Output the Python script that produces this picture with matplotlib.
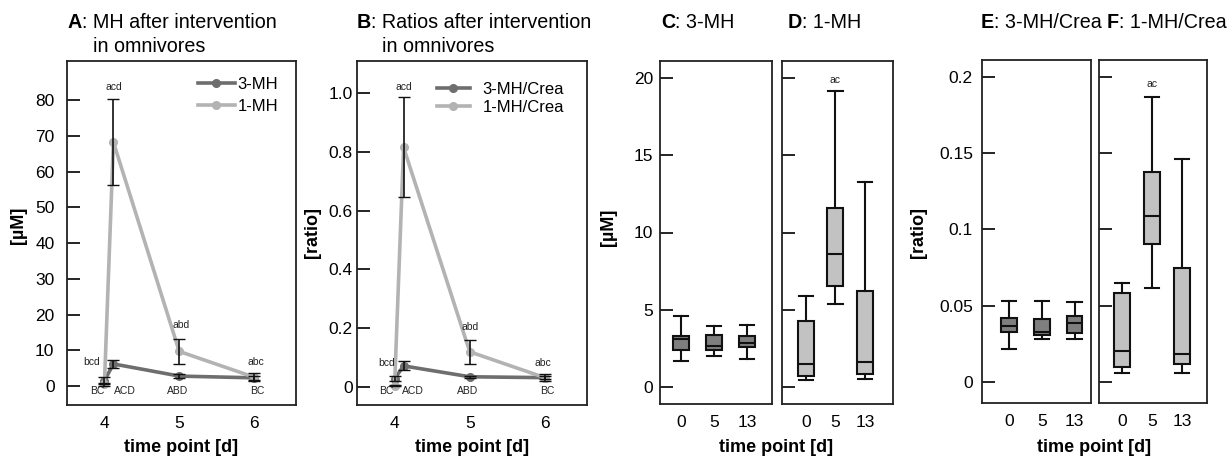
import matplotlib
matplotlib.use("Agg")
import matplotlib.pyplot as plt

plt.rcParams.update({
    "font.family": ["Liberation Sans", "DejaVu Sans"],
    "font.size": 12,
    "axes.linewidth": 1.3,
    "axes.edgecolor": "#222222",
})

# ---- line plots (A, B) ----
time_x = [4.0, 4.12, 5.0, 6.0]
time_ticks = [4, 5, 6]

mh3_mean = [1.5, 6.2, 2.8, 2.3]
mh3_err = [1.0, 1.2, 0.5, 0.6]
mh1_mean = [0.5, 68.3, 9.7, 2.5]
mh1_err = [0.4, 12.0, 3.6, 1.2]

mh3_crea_mean = [0.028, 0.072, 0.035, 0.032]
mh3_crea_err = [0.008, 0.015, 0.004, 0.004]
mh1_crea_mean = [0.005, 0.815, 0.12, 0.032]
mh1_crea_err = [0.003, 0.17, 0.04, 0.013]

# significance letters: (text, x, y)
letters_a = [("bcd", 3.83, 6.7), ("acd", 4.13, 83.6), ("abd", 5.03, 17.0), ("abc", 6.02, 6.7),
             ("BC", 3.91, -1.4), ("ACD", 4.28, -1.4), ("ABD", 4.98, -1.4), ("BC", 6.04, -1.4)]
letters_b = [("bcd", 3.89, 0.083), ("acd", 4.13, 1.02), ("abd", 5.01, 0.205), ("abc", 5.97, 0.083),
             ("BC", 3.89, -0.014), ("ACD", 4.24, -0.014), ("ABD", 4.97, -0.014), ("BC", 6.03, -0.014)]

# ---- box plots (C-F): whislo, q1, median, q3, whishi ----
box_labels = ["0", "5", "13"]
c_3mh = [[1.66, 2.42, 3.10, 3.32, 4.57],
         [2.00, 2.37, 2.65, 3.39, 3.93],
         [1.83, 2.59, 2.87, 3.32, 3.99]]
d_1mh = [[0.43, 0.69, 1.51, 4.25, 5.87],
         [5.35, 6.56, 8.59, 11.6, 19.14],
         [0.50, 0.86, 1.64, 6.21, 13.3]]
e_3mh_crea = [[0.0214, 0.0328, 0.0369, 0.0420, 0.0531],
              [0.0280, 0.0310, 0.0328, 0.0415, 0.0529],
              [0.0284, 0.0324, 0.0385, 0.0433, 0.0525]]
f_1mh_crea = [[0.0059, 0.0100, 0.0203, 0.0580, 0.0647],
              [0.0616, 0.0905, 0.1086, 0.1377, 0.1870],
              [0.0059, 0.0120, 0.0186, 0.0745, 0.1458]]

DARK = "#6e6e6e"
LIGHT = "#b3b3b3"
BOX_DARK = "#7f7f7f"
BOX_LIGHT = "#c2c2c2"

TICK_FS = 12.5
TITLE_FS = 14.2
LEGEND_FS = 12
LETTER_FS = 7.5

W, H = 1228, 458
fig = plt.figure(figsize=(W / 100, H / 100), dpi=100)


def px_axes(left, right, top, bottom):
    return fig.add_axes([left / W, 1 - bottom / H, (right - left) / W, (bottom - top) / H])


def style_axes(ax, ypad, show_ylabels=True):
    ax.tick_params(axis="y", direction="in", length=9, width=1.2, pad=ypad,
                   labelsize=TICK_FS, labelleft=show_ylabels)
    ax.tick_params(axis="x", length=0, pad=8, labelsize=TICK_FS)


def line_panel(ax, m3, e3, m1, e1, lab3, lab1, letters, ylim, yticks, yticklabels, ypad):
    ax.plot(time_x, m3, color=DARK, lw=2.6, marker="o", ms=5.5, label=lab3, zorder=3)
    ax.plot(time_x, m1, color=LIGHT, lw=2.6, marker="o", ms=5.5, label=lab1, zorder=3)
    ax.errorbar(time_x, m3, yerr=e3, fmt="none", ecolor="#111111", elinewidth=1.2, capsize=4, zorder=4)
    ax.errorbar(time_x, m1, yerr=e1, fmt="none", ecolor="#111111", elinewidth=1.2, capsize=4, zorder=4)
    for txt, x, y in letters:
        ax.text(x, y, txt, fontsize=LETTER_FS, ha="center", va="center", color="#222222")
    ax.set_xlim(3.5, 6.56)
    ax.set_ylim(*ylim)
    ax.set_xticks(time_ticks)
    ax.set_yticks(yticks)
    ax.set_yticklabels(yticklabels)
    style_axes(ax, ypad)


def box_panel(ax, rows, color, xlim, width, ylim, yticks, yticklabels=None, ypad=5):
    stats = [dict(whislo=r[0], q1=r[1], med=r[2], q3=r[3], whishi=r[4], fliers=[]) for r in rows]
    ax.bxp(stats, positions=[1, 2, 3], widths=width, patch_artist=True, showfliers=False,
           boxprops=dict(facecolor=color, edgecolor="#111111", linewidth=1.5),
           medianprops=dict(color="#111111", linewidth=1.5),
           whiskerprops=dict(color="#111111", linewidth=1.5),
           capprops=dict(color="#111111", linewidth=1.5),
           capwidths=width * 0.9)
    ax.set_xlim(*xlim)
    ax.set_ylim(*ylim)
    ax.set_xticks([1, 2, 3])
    ax.set_xticklabels(box_labels)
    ax.set_yticks(yticks)
    if yticklabels is not None:
        ax.set_yticklabels(yticklabels)
    style_axes(ax, ypad, show_ylabels=yticklabels is not None)


# A
ax_a = px_axes(67, 296, 61, 405)
line_panel(ax_a, mh3_mean, mh3_err, mh1_mean, mh1_err, "3-MH", "1-MH", letters_a,
           (-5.3, 91), range(0, 81, 10), [str(v) for v in range(0, 81, 10)], ypad=9)
ax_a.legend(loc="upper right", frameon=False, fontsize=LEGEND_FS, handlelength=2.2,
            handletextpad=0.15, labelspacing=0.45, borderaxespad=0.55,
            bbox_to_anchor=(0.99, 1.0))

# B
ax_b = px_axes(357, 587, 61, 405)
line_panel(ax_b, mh3_crea_mean, mh3_crea_err, mh1_crea_mean, mh1_crea_err,
           "3-MH/Crea", "1-MH/Crea", letters_b,
           (-0.061, 1.109), [0, 0.2, 0.4, 0.6, 0.8, 1.0], ["0", "0.2", "0.4", "0.6", "0.8", "1.0"],
           ypad=3)
ax_b.legend(loc="upper right", frameon=False, fontsize=LEGEND_FS, handlelength=2.0,
            handletextpad=0.75, labelspacing=0.2, borderaxespad=0.85,
            bbox_to_anchor=(0.99, 1.0))

# C, D
ax_c = px_axes(660, 772, 61, 404)
box_panel(ax_c, c_3mh, BOX_DARK, (0.37, 3.76), 0.48, (-1.1, 21.1),
          [0, 5, 10, 15, 20], ["0", "5", "10", "15", "20"], ypad=5)
ax_d = px_axes(782, 893, 61, 404)
box_panel(ax_d, d_1mh, BOX_LIGHT, (0.19, 3.95), 0.54, (-1.1, 21.1), [0, 5, 10, 15, 20])
ax_d.text(2, 19.9, "ac", fontsize=LETTER_FS, ha="center", va="center", color="#222222")

# E, F
ax_e = px_axes(982, 1091, 60, 403)
box_panel(ax_e, e_3mh_crea, BOX_DARK, (0.18, 3.5), 0.48, (-0.0138, 0.211),
          [0, 0.05, 0.1, 0.15, 0.2], ["0", "0.05", "0.1", "0.15", "0.2"], ypad=6.5)
ax_f = px_axes(1099, 1207, 60, 403)
box_panel(ax_f, f_1mh_crea, BOX_LIGHT, (0.23, 3.83), 0.53, (-0.0138, 0.211),
          [0, 0.05, 0.1, 0.15, 0.2])
ax_f.text(2, 0.195, "ac", fontsize=LETTER_FS, ha="center", va="center", color="#222222")


# titles: bold panel letter followed by regular text
def panel_title(x_px, y_px, letter, rest):
    t = fig.text(x_px / W, 1 - y_px / H, letter, fontsize=TITLE_FS, fontweight="bold",
                 ha="left", va="center")
    fig.add_artist(plt.Annotation(rest, xy=(1, 0.5), xycoords=t, fontsize=TITLE_FS,
                                  ha="left", va="center"))


panel_title(68, 22, "A", ": MH after intervention")
fig.text(93 / W, 1 - 47 / H, "in omnivores", fontsize=TITLE_FS, ha="left", va="center")
panel_title(357, 22, "B", ": Ratios after intervention")
fig.text(382 / W, 1 - 47 / H, "in omnivores", fontsize=TITLE_FS, ha="left", va="center")
panel_title(661, 23, "C", ": 3-MH")
panel_title(788, 23, "D", ": 1-MH")
panel_title(981, 23, "E", ": 3-MH/Crea")
panel_title(1107, 23, "F", ": 1-MH/Crea")

# axis labels
lab_kw = dict(fontsize=13, fontweight="bold", ha="center", va="center")
fig.text(181 / W, 1 - 448 / H, "time point [d]", **lab_kw)
fig.text(472 / W, 1 - 448 / H, "time point [d]", **lab_kw)
fig.text(776 / W, 1 - 448 / H, "time point [d]", **lab_kw)
fig.text(1094 / W, 1 - 448 / H, "time point [d]", **lab_kw)
fig.text(19 / W, 1 - 225 / H, "[µM]", rotation=90, **lab_kw)
fig.text(313 / W, 1 - 233 / H, "[ratio]", rotation=90, **lab_kw)
fig.text(608 / W, 1 - 227 / H, "[µM]", rotation=90, **lab_kw)
fig.text(918 / W, 1 - 233 / H, "[ratio]", rotation=90, **lab_kw)

fig.savefig("out.png", dpi=100, facecolor="white")
